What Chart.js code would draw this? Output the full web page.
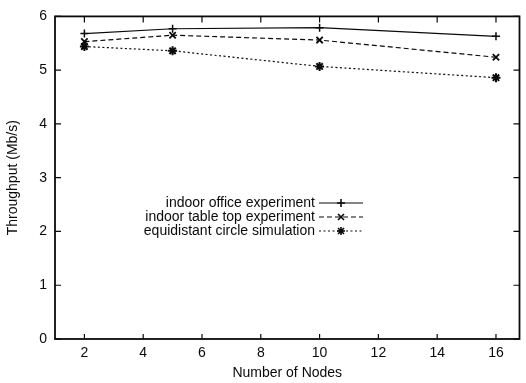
<!DOCTYPE html>
<html>
<head>
<meta charset="utf-8">
<script src="https://cdn.jsdelivr.net/npm/chart.js@4/dist/chart.umd.min.js"></script>
<style>
  html, body { margin: 0; padding: 0; background: #fff; overflow: hidden; }
  #wrap { width: 526px; height: 383px; position: relative; }
</style>
</head>
<body>
<div id="wrap"><canvas id="tput"></canvas></div>
<script>
// values
const nodes = [2, 5, 10, 16];
const officeVals = [5.68, 5.77, 5.79, 5.63];
const tableVals = [5.53, 5.65, 5.56, 5.24];
const circleVals = [5.44, 5.36, 5.07, 4.86];
const seriesNames = ["indoor office experiment", "indoor table top experiment", "equidistant circle simulation"];
const xTicks = [2, 4, 6, 8, 10, 12, 14, 16];
const yTicks = [0, 1, 2, 3, 4, 5, 6];
const xTitle = "Number of Nodes";
const yTitle = "Throughput (Mb/s)";

const INK = "#0a0a0a";
const FONT = "'Liberation Sans', Arial, Helvetica, sans-serif";

function toPoints(vals) {
  return nodes.map((n, i) => ({ x: n, y: vals[i] }));
}

// little marker drawer so the key matches the plotted points
function drawMarker(ctx, style, x, y, r) {
  ctx.beginPath();
  if (style === "cross" || style === "star") {
    ctx.moveTo(x - r, y); ctx.lineTo(x + r, y);
    ctx.moveTo(x, y - r); ctx.lineTo(x, y + r);
  }
  if (style === "crossRot" || style === "star") {
    const d = r * 0.75;
    ctx.moveTo(x - d, y - d); ctx.lineTo(x + d, y + d);
    ctx.moveTo(x - d, y + d); ctx.lineTo(x + d, y - d);
  }
  ctx.stroke();
}

// frame with inward ticks on all four sides
const framePlugin = {
  id: "frame",
  afterDraw(chart) {
    const { ctx, chartArea: a, scales } = chart;
    ctx.save();
    ctx.strokeStyle = INK;
    ctx.lineWidth = 1.8;
    ctx.strokeRect(a.left, a.top, a.right - a.left, a.bottom - a.top);
    ctx.lineWidth = 1.2;
    ctx.beginPath();
    xTicks.forEach(v => {
      const px = scales.x.getPixelForValue(v);
      ctx.moveTo(px, a.bottom); ctx.lineTo(px, a.bottom - 5);
      ctx.moveTo(px, a.top); ctx.lineTo(px, a.top + 6);
    });
    yTicks.forEach(v => {
      const py = scales.y.getPixelForValue(v);
      ctx.moveTo(a.left, py); ctx.lineTo(a.left + 6, py);
      ctx.moveTo(a.right, py); ctx.lineTo(a.right - 6, py);
    });
    ctx.stroke();
    ctx.restore();
  }
};

// key in the middle of the plot, text right aligned, sample on the right
const keyPlugin = {
  id: "key",
  afterDraw(chart) {
    const ctx = chart.ctx;
    const textRight = 315, lineL = 319, lineR = 363;
    const rows = [203, 217, 231];
    ctx.save();
    ctx.font = "14px " + FONT;
    ctx.fillStyle = INK;
    ctx.textAlign = "right";
    ctx.textBaseline = "middle";
    chart.data.datasets.forEach((ds, i) => {
      const y = rows[i];
      ctx.fillText(ds.label, textRight, y);
      ctx.strokeStyle = INK;
      ctx.lineWidth = 1.2;
      ctx.setLineDash(ds.borderDash || []);
      ctx.beginPath();
      ctx.moveTo(lineL, y); ctx.lineTo(lineR, y);
      ctx.stroke();
      ctx.setLineDash([]);
      ctx.lineWidth = 1.6;
      drawMarker(ctx, ds.pointStyle, (lineL + lineR) / 2, y, 4);
    });
    ctx.restore();
  }
};

new Chart(document.getElementById("tput"), {
  type: "line",
  data: {
    datasets: [
      {
        label: seriesNames[0],
        data: toPoints(officeVals),
        borderColor: INK,
        borderWidth: 1.2,
        pointStyle: "cross",
        pointRadius: 4,
        pointBorderWidth: 1.5,
        pointBorderColor: INK,
        tension: 0
      },
      {
        label: seriesNames[1],
        data: toPoints(tableVals),
        borderColor: INK,
        borderWidth: 1.2,
        borderDash: [5, 3],
        pointStyle: "crossRot",
        pointRadius: 4.5,
        pointBorderWidth: 1.8,
        pointBorderColor: INK,
        tension: 0
      },
      {
        label: seriesNames[2],
        data: toPoints(circleVals),
        borderColor: INK,
        borderWidth: 1.2,
        borderDash: [2, 2.5],
        pointStyle: "star",
        pointRadius: 4.5,
        pointBorderWidth: 2,
        pointBorderColor: INK,
        tension: 0
      }
    ]
  },
  options: {
    responsive: true,
    maintainAspectRatio: false,
    animation: false,
    layout: { padding: { top: 13, right: 3, left: 0, bottom: 0 } },
    plugins: {
      legend: { display: false },
      tooltip: { enabled: false }
    },
    scales: {
      x: {
        type: "linear",
        min: 1,
        max: 16.8,
        afterBuildTicks: s => { s.ticks = xTicks.map(v => ({ value: v })); },
        afterFit: s => { s.height = 44; },
        grid: { display: false, drawTicks: false },
        border: { display: false },
        ticks: { color: INK, font: { family: FONT, size: 14 }, padding: 6, maxRotation: 0 },
        title: { display: true, text: xTitle, color: INK, font: { family: FONT, size: 14 }, padding: { top: 0, bottom: 1.5 } }
      },
      y: {
        min: 0,
        max: 6,
        afterBuildTicks: s => { s.ticks = yTicks.map(v => ({ value: v })); },
        afterFit: s => { s.width = 55; },
        grid: { display: false, drawTicks: false },
        border: { display: false },
        ticks: { color: INK, font: { family: FONT, size: 14 }, padding: 8 },
        title: { display: true, text: yTitle, color: INK, font: { family: FONT, size: 14 }, padding: { top: 4.5, bottom: 0 } }
      }
    }
  },
  plugins: [framePlugin, keyPlugin]
});
</script>
</body>
</html>
